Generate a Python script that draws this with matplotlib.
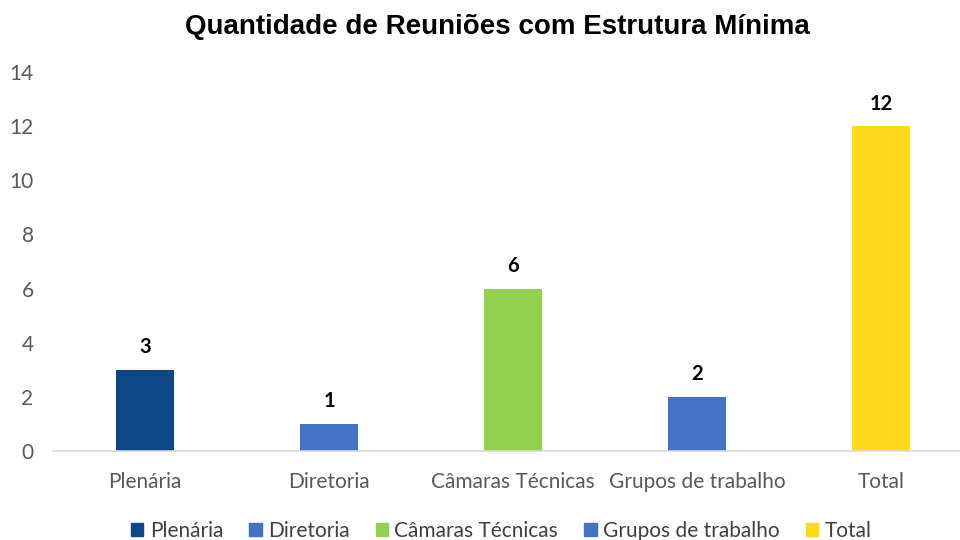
import matplotlib
matplotlib.use("Agg")
import matplotlib.pyplot as plt
from matplotlib.patches import Patch

categories = ["Plenária", "Diretoria", "Câmaras Técnicas", "Grupos de trabalho", "Total"]
values = [3, 1, 6, 2, 12]
colors = ["#0E4686", "#4472C4", "#92D050", "#4472C4", "#FFD91A"]

plt.rcParams['font.family'] = ['Lato', 'DejaVu Sans']

fig = plt.figure(figsize=(9.6, 5.4), dpi=100)
ax = fig.add_axes([53 / 960, 89 / 540, 920 / 960, 379 / 540])

x = range(len(categories))
bars = ax.bar(x, values, width=0.315, color=colors, zorder=2)

for xi, v in zip(x, values):
    ax.annotate(str(v), (xi, v), xytext=(0, 9), textcoords="offset points",
                ha="center", va="bottom", fontsize=14.5, fontweight="bold", color="black")

ax.set_xlim(-0.5, 4.5)
ax.set_ylim(0, 14)
ax.set_yticks(range(0, 15, 2))
ax.set_xticks(list(x))
ax.set_xticklabels(categories)
ax.tick_params(axis="both", length=0, labelsize=15, colors="#595959")
ax.tick_params(axis="y", pad=14)
ax.tick_params(axis="x", pad=15)
for s in ["top", "right", "left"]:
    ax.spines[s].set_visible(False)
ax.spines["bottom"].set_color("#D9D9D9")
ax.spines["bottom"].set_linewidth(1.2)

fig.suptitle("Quantidade de Reuniões com Estrutura Mínima", x=0.518, y=0.975,
             fontsize=20, fontweight="bold", family="Liberation Sans")

handles = [Patch(color=c, label=l) for c, l in zip(colors, categories)]
fig.legend(handles=handles, loc="lower center", ncol=5, frameon=False,
           bbox_to_anchor=(0.522, -0.036), fontsize=15, handlelength=0.6,
           handleheight=0.6, handletextpad=0.3, columnspacing=1.25,
           labelcolor="#404040")

fig.savefig("out.png", dpi=100)
